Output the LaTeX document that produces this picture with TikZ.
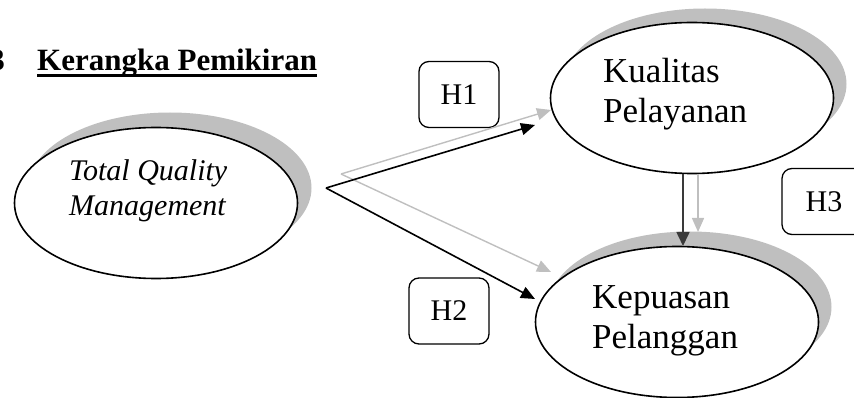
\documentclass[tikz,border=0pt]{standalone}
\usepackage{fontspec}
\setmainfont{Liberation Serif}
\usetikzlibrary{arrows.meta,shapes.geometric}
\definecolor{shade}{HTML}{BFBFBF}
\definecolor{darkarrow}{HTML}{3A3A3A}
\begin{document}
\begin{tikzpicture}[x=1pt,y=-1pt,
  varell/.style={ellipse,draw=black,line width=1.6pt,fill=white,minimum width=283pt,minimum height=151pt,inner sep=0pt},
  shadowell/.style={ellipse,fill=shade,minimum width=283pt,minimum height=151pt,inner sep=0pt},
  hbox/.style={draw=black,line width=1.3pt,rounded corners=10pt,minimum width=80pt,minimum height=66pt,font=\fontsize{30}{34}\selectfont},
  blk/.style={draw=black,line width=1.6pt,-{Triangle[length=14pt,width=12pt]}},
  gry/.style={draw=shade,line width=1.4pt,-{Triangle[length=14pt,width=12pt]}},
  vtxt/.style={align=left,inner sep=0pt,anchor=base west}
]
\useasboundingbox (0,0) rectangle (854,398);
% title
\node[anchor=base east,inner sep=0pt,font=\bfseries\fontsize{31}{36}\selectfont] (num) at (5,71) {3};
\node[anchor=base west,inner sep=0pt,font=\bfseries\fontsize{31}{36}\selectfont] (title) at (37,71) {Kerangka Pemikiran};
\draw[line width=2.6pt] ([yshift=-4.5pt]title.base west) -- ([yshift=-4.5pt]title.base east);
% shadows
\node[shadowell] (tqms) at (170,188) {};
\node[shadowell] (kps) at (705,84) {};
\node[shadowell] (kpls) at (690,307) {};
% ellipses
\node[varell] (tqm) at (156,203) {};
\node[varell] (kp) at (692,98) {};
\node[varell] (kpl) at (677,322) {};
% texts
\node[vtxt,font=\itshape\fontsize{30}{35}\selectfont] (tqmt) at (69,215) {Total Quality\\Management};
\node[vtxt,font=\fontsize{35}{40}\selectfont] (kpt) at (603,123) {Kualitas\\Pelayanan};
\node[vtxt,font=\fontsize{35}{40}\selectfont] (kplt) at (592,348) {Kepuasan\\Pelanggan};
% hypothesis boxes
\node[hbox] (h1) at (459,94.5) {H1};
\node[hbox] (h2) at (449,311) {H2};
\node[hbox,minimum width=84pt] (h3) at (824,201.5) {H3};
% connector points
\coordinate (bs) at (326,188);
\coordinate (gs) at (341,174);
\coordinate (b1) at (535,125);
\coordinate (b2) at (535,299);
\coordinate (g1) at (551,110);
\coordinate (g2) at (551,272);
\coordinate (vb) at (683,174.5);
\coordinate (vbe) at (683,246);
\coordinate (vg) at (698,174.5);
\coordinate (vge) at (698,232);
% arrows
\draw[gry] (gs) -- (g1);
\draw[gry] (gs) -- (g2);
\draw[blk] (bs) -- (b1);
\draw[blk] (bs) -- (b2);
\draw[gry] (vg) -- (vge);
\draw[draw=darkarrow,line width=1.6pt,-{Triangle[length=14pt,width=13pt]}] (vb) -- (vbe);
\end{tikzpicture}
\end{document}
